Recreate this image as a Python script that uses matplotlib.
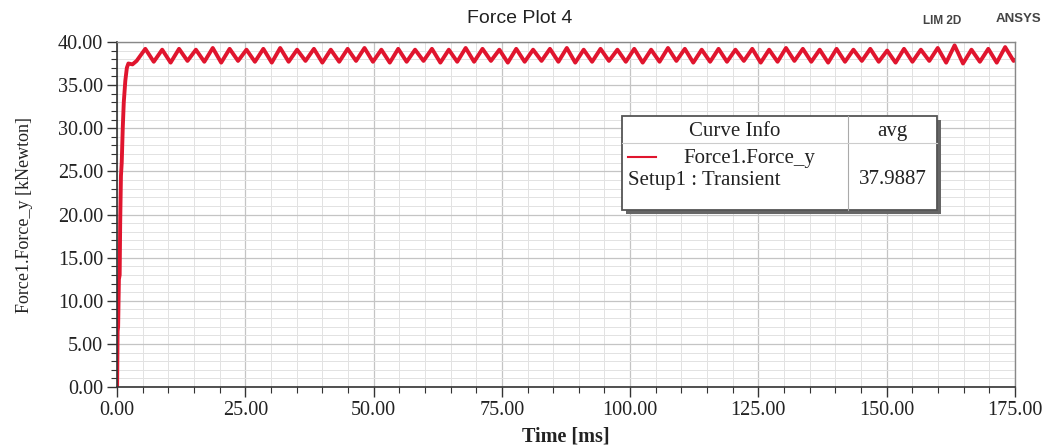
import numpy as np
import matplotlib.pyplot as plt
from matplotlib.ticker import MultipleLocator, FormatStrFormatter
from matplotlib.patches import Rectangle
from matplotlib.lines import Line2D

# start-up ramp of the force (ms, kN)
t_ramp = [0.0, 0.1, 0.2, 0.35, 0.5, 0.6, 0.75, 0.9, 1.1, 1.3, 1.6, 1.9, 2.2, 3.0, 3.8]
f_ramp = [0.0, 6.5, 7.0, 12.5, 13.0, 19.0, 24.5, 26.0, 30.0, 33.0, 35.5, 37.0, 37.5, 37.4, 37.8]

# ripple peaks and troughs (kN)
peaks = [39.2, 39.1, 39.2, 39.1, 39.3, 39.2, 39.1, 39.2, 39.3, 39.1,
         39.2, 39.1, 39.2, 39.3, 39.1, 39.2, 39.1, 39.2, 39.1, 39.3,
         39.2, 39.1, 39.2, 39.1, 39.2, 39.3, 39.1, 39.2, 39.1, 39.2,
         39.1, 39.3, 39.2, 39.1, 39.2, 39.1, 39.2, 39.1, 39.3, 39.2,
         39.1, 39.2, 39.1, 39.2, 39.0, 39.2, 39.1, 39.3, 39.6, 39.1,
         39.2, 39.4]
troughs = [37.7, 37.6, 37.8, 37.7, 37.6, 37.8, 37.7, 37.6, 37.7, 37.8,
           37.6, 37.7, 37.8, 37.7, 37.6, 37.7, 37.8, 37.6, 37.7, 37.7,
           37.8, 37.6, 37.7, 37.8, 37.7, 37.6, 37.7, 37.8, 37.7, 37.6,
           37.7, 37.8, 37.6, 37.7, 37.7, 37.8, 37.6, 37.7, 37.8, 37.7,
           37.6, 37.7, 37.8, 37.7, 37.6, 37.7, 37.8, 37.6, 37.5, 37.7,
           37.6, 37.8]
t_first_peak, t_last_peak = 5.5, 173.1
t_end, f_end = 175.0, 37.9

# time grid of the ripple samples
t_peak = np.linspace(t_first_peak, t_last_peak, len(peaks))
half = (t_peak[1] - t_peak[0]) / 2
t_rip = np.empty(2 * len(peaks))
f_rip = np.empty(2 * len(peaks))
t_rip[0::2], t_rip[1::2] = t_peak, t_peak + half
f_rip[0::2], f_rip[1::2] = peaks, troughs
t = np.concatenate([t_ramp, t_rip, [t_end]])
f = np.concatenate([f_ramp, f_rip, [f_end]])

serif = ['Liberation Serif', 'DejaVu Serif']
sans = ['Liberation Sans', 'DejaVu Sans']

fig = plt.figure(figsize=(10.55, 4.46), dpi=100)
ax = fig.add_axes([0.111, 0.132, 0.851, 0.774])
ax.plot(t, f, color='#e0152e', lw=2.8, solid_joinstyle='round')

ax.set_xlim(0, 175)
ax.set_ylim(0, 40)
ax.xaxis.set_major_locator(MultipleLocator(25))
ax.xaxis.set_minor_locator(MultipleLocator(5))
ax.yaxis.set_major_locator(MultipleLocator(5))
ax.yaxis.set_minor_locator(MultipleLocator(1))
ax.xaxis.set_major_formatter(FormatStrFormatter('%.2f'))
ax.yaxis.set_major_formatter(FormatStrFormatter('%.2f'))
ax.grid(which='major', color='#c4c4c4', lw=0.9)
ax.grid(which='minor', color='#e2e2e2', lw=0.7)
ax.set_axisbelow(True)
ax.tick_params(which='major', length=7, width=1, color='#333333', pad=3)
ax.tick_params(which='minor', length=4, width=0.8, color='#333333')
for lab in ax.get_xticklabels() + ax.get_yticklabels():
    lab.set_family(serif)
    lab.set_fontsize(14.5)
    lab.set_color('#222222')
for s in ['left', 'bottom']:
    ax.spines[s].set_color('#333333')
    ax.spines[s].set_linewidth(1.2)
for s in ['top', 'right']:
    ax.spines[s].set_color('#888888')
    ax.spines[s].set_linewidth(1.0)

ax.set_xlabel('Time [ms]', family=serif, fontsize=14.5, fontweight='bold', color='#222222', labelpad=5)
ax.set_ylabel('Force1.Force_y [kNewton]', family=serif, fontsize=13, color='#222222', labelpad=18)

fig.text(0.493, 0.958, 'Force Plot 4', family=sans, fontsize=14, ha='center', va='center', color='#222222')
fig.text(0.893, 0.953, 'LIM 2D', family=sans, fontsize=8.5, fontweight='bold', ha='center', va='center', color='#444444')
fig.text(0.965, 0.958, 'ANSYS', family=sans, fontsize=9.5, fontweight='bold', ha='center', va='center', color='#444444')

# legend table with shadow
tr = fig.transFigure
x0, x1, xm = 622 / 1055, 937 / 1055, 848 / 1055
ytop, ybot, yhead = 1 - 116 / 446, 1 - 210 / 446, 1 - 143 / 446
fig.patches.append(Rectangle((x0 + 4 / 1055, ybot - 4 / 446), x1 - x0, ytop - ybot,
                             transform=tr, facecolor='#666666', edgecolor='none', zorder=5))
fig.patches.append(Rectangle((x0, ybot), x1 - x0, ytop - ybot, transform=tr,
                             facecolor='white', edgecolor='#555555', lw=1.3, zorder=6))
fig.lines.append(Line2D([xm, xm], [ybot, ytop], transform=tr, color='#aaaaaa', lw=0.8, zorder=7))
fig.lines.append(Line2D([x0, x1], [yhead, yhead], transform=tr, color='#cccccc', lw=0.8, zorder=7))
fig.lines.append(Line2D([628 / 1055, 656 / 1055], [1 - 157 / 446] * 2, transform=tr,
                        color='#e0152e', lw=1.5, zorder=7))
kw = dict(family=serif, fontsize=15, color='#222222', va='center', zorder=8)
fig.text((x0 + xm) / 2, 1 - 131 / 446, 'Curve Info', ha='center', **kw)
fig.text((xm + x1) / 2, 1 - 131 / 446, 'avg', ha='center', **kw)
fig.text(683 / 1055, 1 - 158 / 446, 'Force1.Force_y', ha='left', **kw)
fig.text(628 / 1055, 1 - 180 / 446, 'Setup1 : Transient', ha='left', **kw)
fig.text((xm + x1) / 2, 1 - 180 / 446, '37.9887', ha='center', **kw)

fig.savefig('out.png', dpi=100)
